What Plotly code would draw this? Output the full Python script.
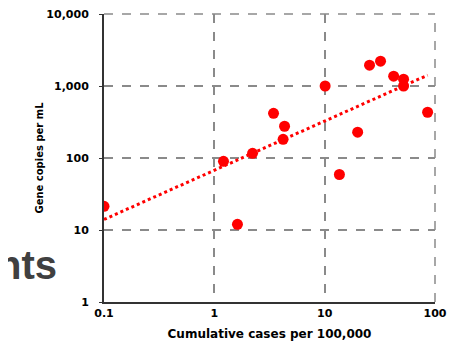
import plotly.graph_objects as go

cases = [0.1, 1.21, 2.22, 3.44, 4.33, 4.2, 1.62, 10.1, 13.6, 19.9, 25.5, 32.1, 42.2, 51.9, 51.9, 85.7]
copies = [21.3, 90, 116, 418, 276, 182, 12, 1000, 59, 228, 1946, 2213, 1369, 1244, 1000, 432]
trend_x = [0.1, 85.7]
trend_y = [14, 1413]
x_ticks = [0.1, 1, 10, 100]
x_tick_text = ["0.1", "1", "10", "100"]
y_ticks = [1, 10, 100, 1000, 10000]
y_tick_text = ["1", "10", "100", "1,000", "10,000"]

font_family = "DejaVu Sans, Verdana, sans-serif"
grid_color = "#8a8a8a"

fig = go.Figure()
fig.add_trace(go.Scatter(x=trend_x, y=trend_y, mode="lines",
                         line=dict(color="#ff0000", width=3, dash="dot"),
                         hoverinfo="skip", showlegend=False))
fig.add_trace(go.Scatter(x=cases, y=copies, mode="markers",
                         marker=dict(color="#ff0000", size=11),
                         showlegend=False))

fig.update_layout(
    width=457, height=350,
    margin=dict(l=96, r=30, t=6, b=56),
    paper_bgcolor="white", plot_bgcolor="white",
    font=dict(family=font_family, color="#000000"),
    xaxis=dict(type="log", range=[-1, 2], tickvals=x_ticks, ticktext=x_tick_text,
               automargin=False, ticklabeloverflow="allow",
               showgrid=True, gridcolor=grid_color, griddash="dash", gridwidth=1.5,
               showline=True, linecolor="#333333", linewidth=2, ticks="",
               tickfont=dict(size=11, family=font_family, weight="bold"),
               title=dict(text="<b>Cumulative cases per 100,000</b>",
                          font=dict(size=12, family=font_family), standoff=10),
               zeroline=False),
    yaxis=dict(type="log", range=[0, 4], tickvals=y_ticks, ticktext=y_tick_text,
               automargin=False, ticklabeloverflow="allow",
               showgrid=True, gridcolor=grid_color, griddash="dash", gridwidth=1.5,
               showline=True, linecolor="#333333", linewidth=2, ticks="outside",
               ticklen=3, tickcolor="#333333", ticklabelstandoff=8,
               tickfont=dict(size=11, family=font_family, weight="bold"),
               title=dict(text="<b>Gene copies per mL</b>",
                          font=dict(size=10, family=font_family), standoff=1),
               zeroline=False),
)

# grid lines at the top and right edges of the plot area
fig.add_shape(type="line", xref="paper", yref="paper", x0=0, x1=1, y0=1, y1=1,
              line=dict(color=grid_color, width=1.5, dash="dash"), layer="below")
fig.add_shape(type="line", xref="paper", yref="paper", x0=1, x1=1, y0=0, y1=1,
              line=dict(color=grid_color, width=1.5, dash="dash"), layer="below")

fig.add_annotation(text="<b>nts</b>", xref="paper", yref="paper",
                   x=-0.136, y=0.127, xanchor="right", yanchor="middle",
                   showarrow=False,
                   font=dict(size=40, color="#404040", family="Liberation Sans, Arial, sans-serif"))

fig.write_html("out.html")
